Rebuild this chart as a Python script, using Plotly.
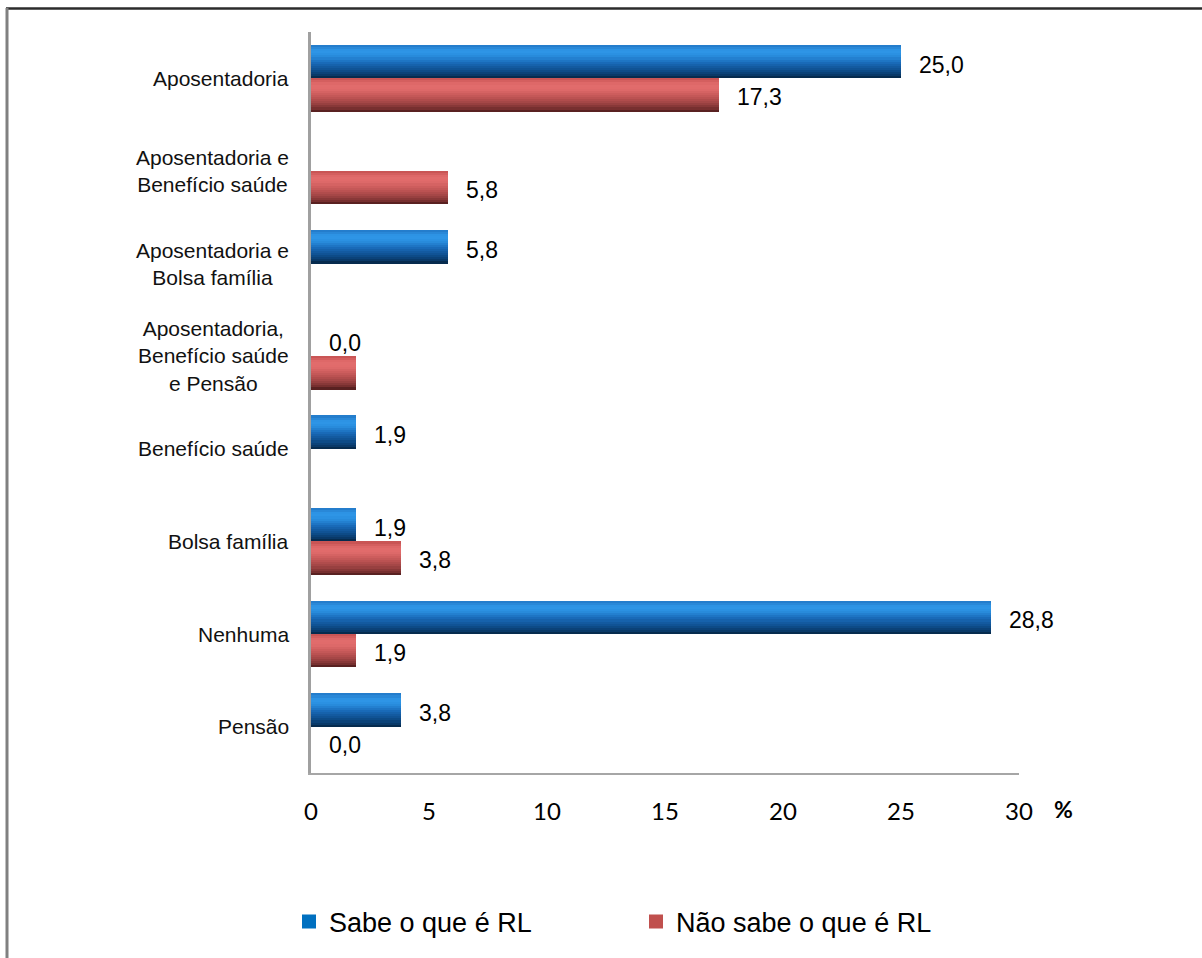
import numpy as np
import plotly.graph_objects as go

# ---- data -------------------------------------------------------------
categorias = [
    "Aposentadoria",
    "Aposentadoria e<br>Benefício saúde",
    "Aposentadoria e<br>Bolsa família",
    "Aposentadoria,<br>Benefício saúde<br>e Pensão",
    "Benefício saúde",
    "Bolsa família",
    "Nenhuma",
    "Pensão",
]
sabe = [25.0, 0.0, 5.8, 0.0, 1.9, 1.9, 28.8, 3.8]
nao_sabe = [17.3, 5.8, 0.0, 1.9, 0.0, 3.8, 1.9, 0.0]
# which bars carry a value label
mostra_sabe = [True, False, True, True, True, True, True, True]
mostra_nao_sabe = [True, True, False, False, False, True, True, True]
x_ticks = [0, 5, 10, 15, 20, 25, 30]
series = ["Sabe o que é RL", "Não sabe o que é RL"]

# ---- layout constants -------------------------------------------------
W, H = 1202, 958
M_L, M_R, M_T, M_B = 311, 183, 32, 185
PLOT_W = W - M_L - M_R
PLOT_H = H - M_T - M_B
BAR = 0.36            # thickness of each bar in category units
N_STRIPS = 16         # horizontal strips used to shade each bar
PX_PER_CAT = PLOT_H / len(categorias)

def px_x(p):
    return (p - M_L) / PLOT_W

def px_y(p):
    return (H - M_B - p) / PLOT_H

def hex_rgb(h):
    h = h.lstrip("#")
    return np.array([int(h[i:i + 2], 16) for i in (0, 2, 4)], float)

def shade(stops, t):
    ts = [s[0] for s in stops]
    cs = [hex_rgb(s[1]) for s in stops]
    c = np.array([np.interp(t, ts, [col[i] for col in cs]) for i in range(3)])
    return "rgb(%d,%d,%d)" % tuple(np.round(c))

azul = [(0.0, "#2278c6"), (0.18, "#2f97e8"), (0.32, "#2a8fe0"),
        (0.55, "#1867b4"), (0.75, "#0e4f8f"), (0.9, "#093a6a"), (1.0, "#052442")]
vermelho = [(0.0, "#c45050"), (0.18, "#e26c6c"), (0.32, "#e06b6b"),
            (0.55, "#c25656"), (0.75, "#a04444"), (0.9, "#7a3030"), (1.0, "#4a1a1a")]

fig = go.Figure()

def add_bar(valores, stops, base):
    s = BAR / N_STRIPS
    for k in range(N_STRIPS):
        t = (k + 0.5) / N_STRIPS
        fig.add_trace(go.Bar(
            x=valores, y=categorias, orientation="h",
            offset=base + k * s,
            width=s * (1.0 if k == N_STRIPS - 1 else 1.15),
            marker=dict(color=shade(stops, t), line=dict(width=0)),
            showlegend=False, hoverinfo="skip",
        ))

add_bar(sabe, azul, -BAR)
add_bar(nao_sabe, vermelho, 0.0)

# legend entries
for nome, cor in zip(series, ["#0070C0", "#C0504D"]):
    fig.add_trace(go.Scatter(
        x=[None], y=[None], mode="markers", name=nome,
        marker=dict(symbol="square", size=14, color=cor),
    ))

anns = []
# value labels
shift = BAR / 2 * PX_PER_CAT
for valores, mostra, ys in ((sabe, mostra_sabe, shift - 3), (nao_sabe, mostra_nao_sabe, -shift - 2)):
    for cat, v, m in zip(categorias, valores, mostra):
        if not m:
            continue
        anns.append(dict(
            x=v, y=cat, xref="x", yref="y", text=f"{v:.1f}".replace(".", ","),
            showarrow=False, xanchor="left", yanchor="middle",
            xshift=16, yshift=ys,
            font=dict(family="Liberation Sans, Arial, sans-serif", size=23, color="#000"),
        ))
# category labels (centred lines, right-aligned block)
for cat in categorias:
    anns.append(dict(
        x=0, y=cat, xref="paper", yref="y", text=cat, showarrow=False,
        xanchor="right", yanchor="middle", align="center", xshift=-20,
        font=dict(family="Liberation Sans, Arial, sans-serif", size=21, color="#111"),
    ))
# axis unit
anns.append(dict(
    x=px_x(1063), y=px_y(809), xref="paper", yref="paper", text="<b>%</b>",
    showarrow=False, xanchor="center", yanchor="middle",
    font=dict(family="Lato, Liberation Sans, sans-serif", size=23, color="#000"),
))

shapes = [
    # chart frame (top and left edges)
    dict(type="line", xref="paper", yref="paper",
         x0=px_x(6), x1=px_x(1202), y0=px_y(8.5), y1=px_y(8.5),
         line=dict(color="#2b2b2b", width=2.5)),
    dict(type="line", xref="paper", yref="paper",
         x0=px_x(7), x1=px_x(7), y0=px_y(8), y1=px_y(958),
         line=dict(color="#808080", width=3)),
]

fig.update_layout(
    width=W, height=H,
    margin=dict(l=M_L, r=M_R, t=M_T, b=M_B, pad=0),
    paper_bgcolor="white", plot_bgcolor="white",
    barmode="overlay", bargap=0,
    annotations=anns, shapes=shapes,
    showlegend=True,
    legend=dict(
        orientation="h", x=px_x(289), xanchor="left", y=px_y(922), yanchor="middle",
        font=dict(family="Liberation Sans, Arial, sans-serif", size=27, color="#000"),
        entrywidth=302, entrywidthmode="pixels", bgcolor="rgba(0,0,0,0)",
    ),
    xaxis=dict(
        range=[0, 30], tickvals=x_ticks, ticktext=[str(t) for t in x_ticks],
        showgrid=False, zeroline=False, showline=True, linecolor="#a6a6a6", linewidth=2,
        ticks="", ticklabelstandoff=16,
        tickfont=dict(family="Lato, sans-serif", size=24, color="#000"),
        fixedrange=True,
    ),
    yaxis=dict(
        type="category", categoryorder="array", categoryarray=categorias,
        range=[len(categorias) - 0.5, -0.5],
        showgrid=False, zeroline=False, showline=True, linecolor="#a0a0a0", linewidth=3,
        showticklabels=False, ticks="", fixedrange=True,
    ),
)

fig.write_html("out.html")
